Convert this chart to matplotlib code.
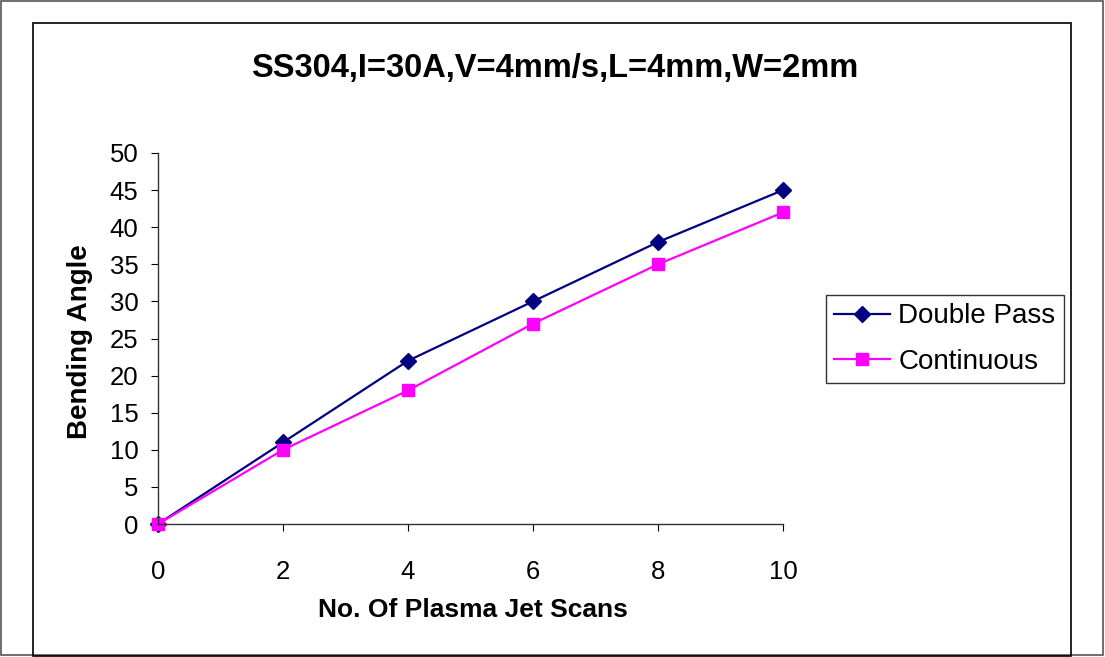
import matplotlib.pyplot as plt
from matplotlib.patches import Rectangle

# data
scans = [0, 2, 4, 6, 8, 10]
double_pass = [0, 11, 22, 30, 38, 45]
continuous = [0, 10, 18, 27, 35, 42]

W, H = 1105, 657


def fx(px):
    return px / W


def fy(py):
    return 1 - py / H


def main() -> None:
    plt.rcParams["font.family"] = ["Liberation Sans", "DejaVu Sans"]

    fig = plt.figure(figsize=(W / 100, H / 100), dpi=100)

    # outer and inner chart frames
    fig.patches.append(Rectangle((fx(1), fy(655)), fx(1102), 654 / H,
                                 transform=fig.transFigure, fill=False,
                                 edgecolor="#555555", linewidth=1.2))
    fig.patches.append(Rectangle((fx(33), fy(656)), fx(1071 - 33), 633 / H,
                                 transform=fig.transFigure, fill=False,
                                 edgecolor="black", linewidth=1.2))

    ax = fig.add_axes([fx(158), fy(524), fx(783 - 158), (524 - 153) / H])

    ax.plot(scans, double_pass, color="#000080", marker="D", markersize=8.5,
            linewidth=1.6, label="Double Pass", clip_on=False)
    ax.plot(scans, continuous, color="#FF00FF", marker="s", markersize=9,
            linewidth=1.6, label="Continuous", clip_on=False)

    ax.set_xlim(0, 10)
    ax.set_ylim(0, 50)
    ax.set_xticks(scans)
    ax.set_yticks(range(0, 51, 5))

    for side in ("top", "right"):
        ax.spines[side].set_visible(False)
    for side in ("left", "bottom"):
        ax.spines[side].set_color("#333333")
        ax.spines[side].set_linewidth(1.0)

    ax.tick_params(axis="y", direction="out", length=5, pad=9, labelsize=18.5)
    ax.tick_params(axis="x", direction="out", length=5, pad=21, labelsize=18.5)

    fig.text(fx(555), fy(68), "SS304,I=30A,V=4mm/s,L=4mm,W=2mm",
             ha="center", va="center", fontsize=23.5, fontweight="bold")
    fig.text(fx(473), fy(610), "No. Of Plasma Jet Scans",
             ha="center", va="center", fontsize=19, fontweight="bold")
    fig.text(fx(80), fy(342), "Bending Angle", rotation=90,
             ha="center", va="center", fontsize=20, fontweight="bold")

    leg = fig.legend(loc="upper left",
                     bbox_to_anchor=(fx(826), fy(295)),
                     fontsize=20, frameon=True, fancybox=False,
                     edgecolor="black", borderpad=0.3, handlelength=2.0,
                     handletextpad=0.3, labelspacing=0.7,
                     borderaxespad=0)
    leg.get_frame().set_linewidth(1.0)

    fig.savefig("out.png", dpi=100)
    plt.close(fig)


if __name__ == "__main__":
    main()
